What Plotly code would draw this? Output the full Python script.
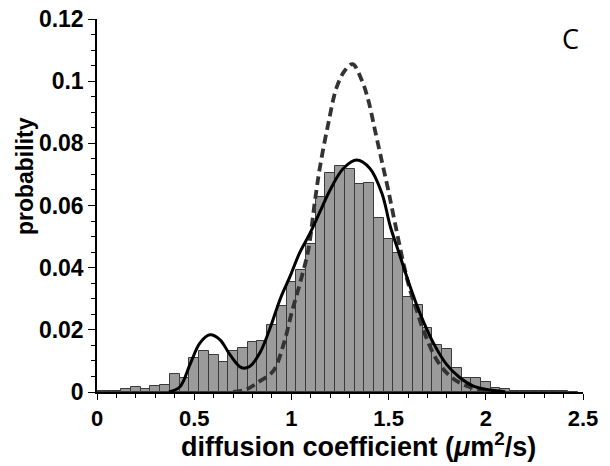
import plotly.graph_objects as go

# Histogram (bin centers, probability)
bin_centers = [0.0, 0.05, 0.1, 0.15, 0.2, 0.25, 0.3, 0.35, 0.4, 0.45,
               0.5, 0.55, 0.6, 0.65, 0.7, 0.75, 0.8, 0.85, 0.9, 0.95,
               1.0, 1.05, 1.1, 1.15, 1.2, 1.25, 1.3, 1.35, 1.4, 1.45,
               1.5, 1.55, 1.6, 1.65, 1.7, 1.75, 1.8, 1.85, 1.9, 1.95,
               2.0, 2.05, 2.1, 2.15, 2.2, 2.25, 2.3, 2.35, 2.4, 2.45]
bin_probs = [0.0004, 0.0002, 0.0004, 0.0010, 0.0015, 0.0009, 0.0018, 0.0024, 0.0058, 0.0046,
             0.0110, 0.0133, 0.0120, 0.0098, 0.0133, 0.0142, 0.0160, 0.0163, 0.0217, 0.0278,
             0.0355, 0.0394, 0.0477, 0.0628, 0.0703, 0.0727, 0.0718, 0.0670, 0.0674, 0.0560,
             0.0491, 0.0448, 0.0307, 0.0279, 0.0207, 0.0152, 0.0138, 0.0076, 0.0044, 0.0044,
             0.0031, 0.0014, 0.0010, 0.0004, 0.0002, 0.0002, 0.0004, 0.0002, 0.0002, 0.0001]

# Solid fit curve
fit_x = [0.37, 0.427, 0.478, 0.53, 0.581, 0.633, 0.684, 0.744, 0.787, 0.838,
         0.89, 0.941, 0.993, 1.044, 1.096, 1.147, 1.199, 1.267, 1.336, 1.404,
         1.465, 1.51, 1.555, 1.61, 1.662, 1.73, 1.799, 1.867, 1.936, 2.005, 2.1]
fit_y = [0.0, 0.0017, 0.0088, 0.0158, 0.0184, 0.0168, 0.0120, 0.0078, 0.0083, 0.0126,
         0.0205, 0.0297, 0.0372, 0.0450, 0.0511, 0.0580, 0.0650, 0.0719, 0.0746, 0.0719,
         0.0640, 0.0530, 0.0445, 0.0340, 0.0252, 0.0158, 0.0088, 0.0046, 0.0019, 0.0008, 0.0001]

# Dashed curve
dash_x = [0.70, 0.77, 0.838, 0.907, 0.962, 1.001, 1.044, 1.087, 1.12, 1.147,
          1.19, 1.233, 1.276, 1.315, 1.362, 1.396, 1.43, 1.464, 1.498, 1.533,
          1.576, 1.61, 1.645, 1.678, 1.747, 1.816, 1.884, 1.953, 2.05]
dash_y = [0.0, 0.0009, 0.0035, 0.0068, 0.0158, 0.0254, 0.0350, 0.0457, 0.0610, 0.0724,
          0.0864, 0.0981, 0.1035, 0.1055, 0.1003, 0.0938, 0.0842, 0.0746, 0.0650, 0.0543,
          0.0415, 0.0329, 0.0262, 0.0200, 0.0104, 0.0051, 0.0024, 0.0010, 0.0002]

x_ticks = [0, 0.5, 1, 1.5, 2, 2.5]
x_labels = ["0", "0.5", "1", "1.5", "2", "2.5"]
y_ticks = [0, 0.02, 0.04, 0.06, 0.08, 0.1, 0.12]
y_labels = ["0", "0.02", "0.04", "0.06", "0.08", "0.1", "0.12"]

fig = go.Figure()
fig.add_trace(go.Bar(x=bin_centers, y=bin_probs, width=0.05,
                     marker=dict(color="#9b9b9b", line=dict(color="#3a3a3a", width=1)),
                     showlegend=False))
fig.add_trace(go.Scatter(x=dash_x, y=dash_y, mode="lines",
                         line=dict(color="#333333", width=3.8, dash="9px,5px", shape="spline"),
                         showlegend=False))
fig.add_trace(go.Scatter(x=fit_x, y=fit_y, mode="lines",
                         line=dict(color="black", width=3, shape="spline"),
                         showlegend=False))

font_main = "Liberation Sans, Arial, sans-serif"
fig.update_layout(
    width=610, height=466,
    margin=dict(l=97, r=27, t=18.5, b=73.5, autoexpand=False),
    paper_bgcolor="white", plot_bgcolor="white",
    bargap=0,
    font=dict(family=font_main, color="black"),
    xaxis=dict(range=[0, 2.5], tickvals=x_ticks, ticktext=x_labels, automargin=False,
               ticks="outside", ticklen=6, tickwidth=1.2, tickcolor="black",
               showline=True, linecolor="black", linewidth=1.5,
               showgrid=False, zeroline=False,
               tickfont=dict(size=22, family=font_main, weight="bold"),
               minor=dict(dtick=0.1, ticks="outside", ticklen=4, tickcolor="black", showgrid=False)),
    yaxis=dict(range=[0, 0.12], tickvals=y_ticks, ticktext=y_labels, automargin=False,
               ticks="outside", ticklen=7, tickwidth=1.2, tickcolor="black",
               showline=True, linecolor="black", linewidth=1.5,
               showgrid=False, zeroline=False,
               tickfont=dict(size=23, family=font_main, weight="bold"),
               minor=dict(dtick=0.005, ticks="outside", ticklen=4, tickcolor="black", showgrid=False)),
    annotations=[
        dict(text="diffusion coefficient (<i>μ</i>m<sup>2</sup>/s)", xref="paper", yref="paper",
             x=(358 - 97) / 486, y=(392.5 - 446) / 374, xanchor="center", yanchor="middle", showarrow=False,
             font=dict(size=27, family=font_main, weight="bold", color="black")),
        dict(text="probability", xref="paper", yref="paper", textangle=-90,
             x=(25 - 97) / 486, y=(392.5 - 176) / 374, xanchor="center", yanchor="middle", showarrow=False,
             font=dict(size=23, family=font_main, weight="bold", color="black")),
        dict(text="C", xref="paper", yref="paper",
             x=(570 - 97) / 486, y=(392.5 - 38) / 374, xanchor="center", yanchor="middle", showarrow=False,
             font=dict(size=27, family="Open Sans, sans-serif", color="black")),
    ],
)

fig.write_html("out.html", config={"displayModeBar": False},
               post_script="document.body.style.margin='0';document.body.style.overflow='hidden';")
